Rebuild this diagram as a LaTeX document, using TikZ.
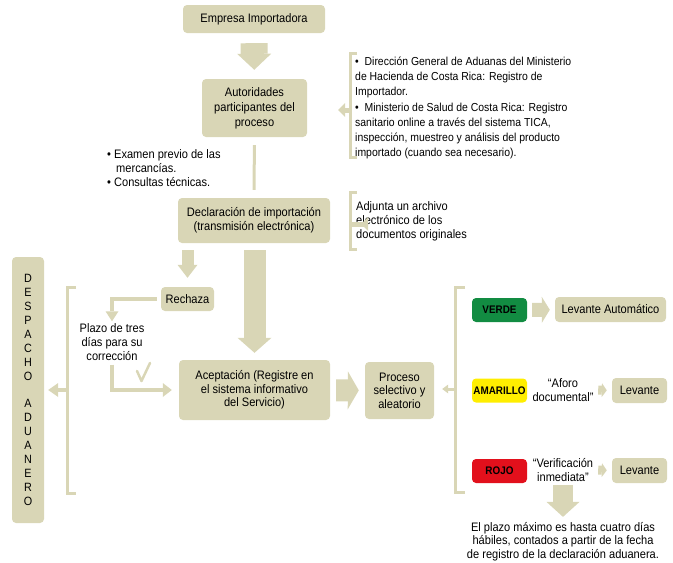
\documentclass[tikz,border=0pt]{standalone}
\usepackage{fontspec}
\setmainfont[FakeStretch=0.9]{Liberation Sans}
\usetikzlibrary{arrows.meta}
\definecolor{beige}{RGB}{217,214,182}
\definecolor{vgreen}{RGB}{18,140,66}
\definecolor{vyellow}{RGB}{255,238,0}
\definecolor{vred}{RGB}{226,16,28}
\tikzset{
  box/.style={fill=beige, rounded corners=4pt, inner sep=0pt, align=center,
    font=\fontsize{12.3}{14}\selectfont},
  flag/.style={rounded corners=4pt, inner sep=0pt, align=center,
    minimum width=55pt, minimum height=24pt, font=\fontsize{11}{13}\selectfont\bfseries},
  txt/.style={inner sep=0pt, font=\fontsize{12.3}{14}\selectfont},
  brk/.style={draw=beige, line width=3pt},
  blk/.style={draw=beige, line width=#1, line cap=butt},
}
\begin{document}
\begin{tikzpicture}[x=1pt,y=-1pt]
\useasboundingbox (0,0) rectangle (673,563);

% main column
\node[box, minimum width=142pt, minimum height=28pt] (emp) at (254,19) {Empresa Importadora};
\node[box, minimum width=105pt, minimum height=58pt, font=\fontsize{12.3}{15}\selectfont] (aut) at (254.5,108) {Autoridades\\participantes del\\proceso};
\node[box, minimum width=152pt, minimum height=45pt] (dec) at (254,220.5) {Declaración de importación\\(transmisión electrónica)};
\node[box, minimum width=53pt, minimum height=24pt] (rech) at (187.5,299) {Rechaza};
\node[box, minimum width=151pt, minimum height=60pt, font=\fontsize{12.3}{13.6}\selectfont] (acep) at (254.5,390) {Aceptación (Registre en\\el sistema informativo\\del Servicio)};
\node[box, minimum width=69pt, minimum height=57pt, font=\fontsize{12.3}{13.6}\selectfont] (proc) at (399.5,390.5) {Proceso\\selectivo y\\aleatorio};
\node[box, minimum width=32pt, minimum height=266pt, font=\fontsize{12}{13.9}\selectfont] (desp) at (28,390) {D\\E\\S\\P\\A\\C\\H\\O\\~\\A\\D\\U\\A\\N\\E\\R\\O};

% side texts
\node[txt, anchor=west, align=left, font=\fontsize{11.6}{15.3}\selectfont] (autx) at (355,108) {\textbullet\ \ Dirección General de Aduanas del Ministerio\\de Hacienda de Costa Rica: Registro de\\Importador.\\\textbullet\ \ Ministerio de Salud de Costa Rica: Registro\\sanitario online a través del sistema TICA,\\inspección, muestreo y análisis del producto\\importado (cuando sea necesario).};
\node[txt, anchor=west, align=left] (adj) at (356,221) {Adjunta un archivo\\electrónico de los\\documentos originales};
\node[txt, anchor=west, align=left] (exa) at (107,168) {\textbullet\ Examen previo de las\\\hspace*{9pt}mercancías.\\\textbullet\ Consultas técnicas.};
\node[txt, align=center] (plazo) at (112,342) {Plazo de tres\\días para su\\corrección};

% channel column
\node[flag, fill=vgreen] (verde) at (499.5,310) {VERDE};
\node[flag, fill=vyellow] (amar) at (499.5,390.5) {AMARILLO};
\node[flag, fill=vred] (rojo) at (499.5,471) {ROJO};
\node[box, minimum width=111pt, minimum height=25pt] (lev1) at (610.5,309.5) {Levante Automático};
\node[box, minimum width=55pt, minimum height=25pt] (lev2) at (639.5,390.5) {Levante};
\node[box, minimum width=55pt, minimum height=25pt] (lev3) at (639.5,470.5) {Levante};
\node[txt, align=center, minimum width=66pt, font=\fontsize{12.3}{14.5}\selectfont] (afo) at (563,390) {“Aforo\\documental”};
\node[txt, align=center, minimum width=66pt, font=\fontsize{12.3}{14}\selectfont] (ver) at (563,470) {“Verificación\\inmediata”};
\node[txt, align=center, font=\fontsize{12.3}{13.6}\selectfont] (plz) at (563,541.5) {El plazo máximo es hasta cuatro días\\hábiles, contados a partir de la fecha\\de registro de la declaración aduanera.};

% brackets
\draw[brk] (357,53) -- (350,53) -- (350,157) -- (357,157);
\draw[brk] (357,192) -- (350,192) -- (350,249) -- (357,249);
\draw[brk] (76,287) -- (67,287) -- (67,493) -- (76,493);
\draw[brk] (465,287) -- (455,287) -- (455,492) -- (465,492);
\coordinate (b1) at (350,110);
\coordinate (b2) at (350,224);
\coordinate (bl) at (67,390);
\coordinate (br) at (455,389);

% block arrows
\draw[blk=27pt, -{Triangle[length=16pt,width=34pt,line width=0pt]}, shorten <=10pt, shorten >=9pt] (emp) -- (aut);
\draw[draw=beige, line width=3pt, shorten <=8pt, shorten >=8pt] (aut) -- (dec);
\draw[blk=5pt, -{Triangle[length=7pt,width=14pt,line width=0pt]}, shorten >=31pt] (b1) -- (b1 -| aut.east);
\draw[blk=5pt, -{Triangle[length=7pt,width=14pt,line width=0pt]}, shorten >=31pt] (b2) -- (b2 -| dec.east);
\draw[blk=12pt, -{Triangle[length=13pt,width=20pt,line width=0pt]}, shorten <=7pt, shorten >=9pt] (dec.south -| rech) -- (rech);
\draw[blk=22pt, -{Triangle[length=15pt,width=34pt,line width=0pt]}, shorten <=7pt, shorten >=7pt] (dec.south -| acep) -- (acep);
\draw[blk=4pt, -{Triangle[length=10pt,width=13pt,line width=0pt]}, shorten <=4pt, shorten >=2pt] (rech.west) -| (plazo.north);
\draw[blk=4pt, -{Triangle[length=9pt,width=14pt,line width=0pt]}, shorten <=4pt, shorten >=7pt] (plazo.south) |- (acep.west);
\draw[draw=beige, line width=2.5pt, line cap=round, line join=round] (137,371) -- (141.5,381) -- (150,363);
\draw[blk=22pt, -{Triangle[length=11pt,width=38pt,line width=0pt]}, shorten <=6pt, shorten >=6pt] (acep) -- (proc);
\draw[blk=3pt, -{Triangle[length=6pt,width=9pt,line width=0pt]}, shorten >=8pt] (br) -- (br -| proc.east);
\draw[blk=4pt, -{Triangle[length=10pt,width=14pt,line width=0pt]}, shorten >=4pt] (bl) -- (bl -| desp.east);
\draw[blk=14pt, -{Triangle[length=8pt,width=26pt,line width=0pt]}, shorten <=5pt, shorten >=5pt] (verde) -- (lev1);
\draw[blk=9pt, -{Triangle[length=5pt,width=14pt,line width=0pt]}, shorten <=2pt, shorten >=5pt] (afo.east) -- (lev2.west);
\draw[blk=9pt, -{Triangle[length=5pt,width=14pt,line width=0pt]}, shorten <=2pt, shorten >=5pt] (ver.east) -- (lev3.west);
\draw[blk=20pt, -{Triangle[length=15pt,width=33pt,line width=0pt]}, shorten <=3pt, shorten >=5pt] (ver.south) -- (plz.north);
\end{tikzpicture}
\end{document}
